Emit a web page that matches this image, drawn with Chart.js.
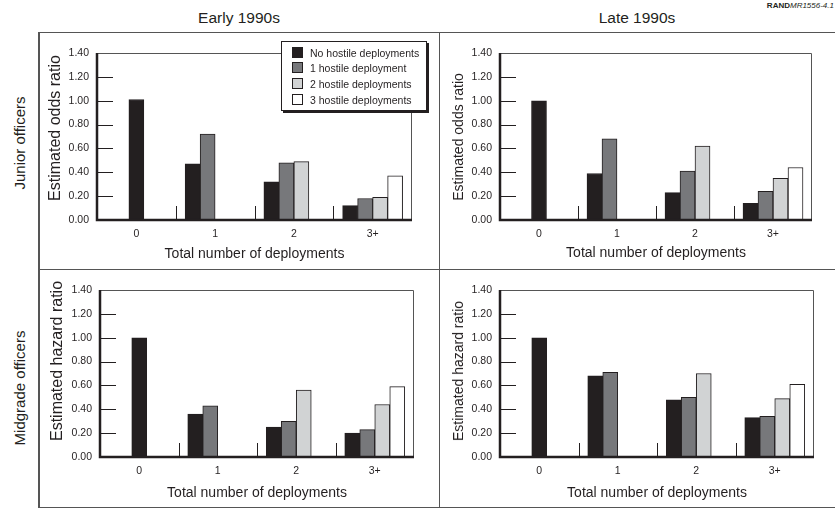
<!DOCTYPE html>
<html><head><meta charset="utf-8">
<script src="https://cdn.jsdelivr.net/npm/chart.js@4.4.1/dist/chart.umd.min.js"></script>
<style>
html,body{margin:0;padding:0;background:#fff;}
#wrap{position:relative;width:835px;height:508px;overflow:hidden;font-family:"Liberation Sans",Arial,Helvetica,sans-serif;color:#231f20;}
canvas{position:absolute;left:0;top:0;}
.ln{position:absolute;background:#555;}
.t{position:absolute;white-space:nowrap;line-height:1;}
.ctr{transform:translate(-50%,-50%);}
.rot{transform:translate(-50%,-50%) rotate(-90deg);}
#legend{position:absolute;left:281px;top:41px;width:144px;height:68px;background:#fff;border:1px solid #231f20;box-shadow:2px 2px 0 #231f20;z-index:5;}
.li{position:absolute;left:10px;height:12px;font-size:10.5px;line-height:12px;white-space:nowrap;}
.sw{display:inline-block;width:9px;height:9px;border:1px solid #231f20;vertical-align:top;margin-top:0px;margin-right:7px;}
</style></head>
<body><div id="wrap"></div>
<script>
// ---------------- data ----------------
const categories = ['0', '1', '2', '3+'];
const seriesNames = ['No hostile deployments', '1 hostile deployment', '2 hostile deployments', '3 hostile deployments'];
const yTickValues = [0, 0.2, 0.4, 0.6, 0.8, 1.0, 1.2, 1.4];

// Early 1990s, junior officers (estimated odds ratio)
const earlyJuniorNone  = [1.01, 0.47, 0.32, 0.12];
const earlyJuniorOne   = [null, 0.72, 0.48, 0.18];
const earlyJuniorTwo   = [null, null, 0.49, 0.19];
const earlyJuniorThree = [null, null, null, 0.37];
// Late 1990s, junior officers (estimated odds ratio)
const lateJuniorNone  = [1.00, 0.39, 0.23, 0.14];
const lateJuniorOne   = [null, 0.68, 0.41, 0.24];
const lateJuniorTwo   = [null, null, 0.62, 0.35];
const lateJuniorThree = [null, null, null, 0.44];
// Early 1990s, midgrade officers (estimated hazard ratio)
const earlyMidNone  = [1.00, 0.36, 0.25, 0.20];
const earlyMidOne   = [null, 0.43, 0.30, 0.23];
const earlyMidTwo   = [null, null, 0.56, 0.44];
const earlyMidThree = [null, null, null, 0.59];
// Late 1990s, midgrade officers (estimated hazard ratio)
const lateMidNone  = [1.00, 0.68, 0.48, 0.33];
const lateMidOne   = [null, 0.71, 0.50, 0.34];
const lateMidTwo   = [null, null, 0.70, 0.49];
const lateMidThree = [null, null, null, 0.61];

// ---------------- styles ----------------
const FONT = '"Liberation Sans", Arial, Helvetica, sans-serif';
const INK = '#231f20';
const fills = ['#231f20', '#77787b', '#d1d3d4', '#ffffff'];

const wrap = document.getElementById('wrap');
function addDiv(cls, css, html) {
  const d = document.createElement('div');
  d.className = cls; d.style.cssText = css; d.innerHTML = html; wrap.appendChild(d); return d;
}

// frame lines
addDiv('ln', 'left:38px;top:32px;width:1.5px;height:476px;', '');
addDiv('ln', 'left:38px;top:31.5px;width:797px;height:1.5px;', '');
addDiv('ln', 'left:38px;top:268.5px;width:797px;height:1.5px;', '');
addDiv('ln', 'left:438.5px;top:32px;width:1.5px;height:476px;', '');
addDiv('ln', 'left:38px;top:506.5px;width:797px;height:1.5px;', '');

// headers
addDiv('t ctr', 'left:239px;top:18px;font-size:15.5px;', 'Early 1990s');
addDiv('t ctr', 'left:637px;top:18px;font-size:15.5px;', 'Late 1990s');
addDiv('t', 'right:1px;top:2px;font-size:8px;', '<b>RAND</b><i>MR1556-4.1</i>');
addDiv('t rot', 'left:19px;top:143px;font-size:15px;', 'Junior officers');
addDiv('t rot', 'left:19px;top:388px;font-size:15px;', 'Midgrade officers');

const panels = [
  { series: [earlyJuniorNone, earlyJuniorOne, earlyJuniorTwo, earlyJuniorThree],
    yTitle: 'Estimated odds ratio', yTitleX: 55, yTitleY: 128, yTitleSize: 16,
    area: { left: 97, right: 412, top: 53, bottom: 220 }, frameLeft: 40, frameBottom: 268, xTitleY: 254 },
  { series: [lateJuniorNone, lateJuniorOne, lateJuniorTwo, lateJuniorThree],
    yTitle: 'Estimated odds ratio', yTitleX: 458, yTitleY: 137, yTitleSize: 14,
    area: { left: 500, right: 812, top: 53, bottom: 220 }, frameLeft: 441, frameBottom: 268, xTitleY: 253 },
  { series: [earlyMidNone, earlyMidOne, earlyMidTwo, earlyMidThree],
    yTitle: 'Estimated hazard ratio', yTitleX: 57, yTitleY: 361, yTitleSize: 16,
    area: { left: 100, right: 414, top: 290, bottom: 457 }, frameLeft: 40, frameBottom: 506, xTitleY: 493 },
  { series: [lateMidNone, lateMidOne, lateMidTwo, lateMidThree],
    yTitle: 'Estimated hazard ratio', yTitleX: 458, yTitleY: 371, yTitleSize: 14,
    area: { left: 500, right: 814, top: 290, bottom: 457 }, frameLeft: 441, frameBottom: 506, xTitleY: 493 }
];

const framePlugin = {
  id: 'frame',
  afterDatasetsDraw(chart) {
    const { ctx, chartArea: a, scales: { x, y } } = chart;
    ctx.save();
    ctx.strokeStyle = '#555';
    ctx.lineWidth = 1;
    ctx.beginPath();
    ctx.moveTo(a.left, a.top + 0.5);
    ctx.lineTo(a.right - 0.5, a.top + 0.5);
    ctx.lineTo(a.right - 0.5, a.bottom);
    ctx.stroke();
    ctx.strokeStyle = INK;
    ctx.beginPath();
    y.ticks.forEach(t => {
      if (t.value <= y.min || t.value >= y.max - 1e-9) return;
      const py = Math.round(y.getPixelForValue(t.value)) + 0.5;
      ctx.moveTo(a.left, py); ctx.lineTo(a.left + 16, py);
    });
    for (let i = 1; i < categories.length; i++) {
      const px = Math.round((x.getPixelForValue(i - 1) + x.getPixelForValue(i)) / 2) + 0.5;
      ctx.moveTo(px, a.bottom); ctx.lineTo(px, a.bottom - 14);
    }
    ctx.stroke();
    ctx.lineWidth = 2.5;
    ctx.beginPath();
    ctx.moveTo(a.left, a.top);
    ctx.lineTo(a.left, a.bottom);
    ctx.lineTo(a.right, a.bottom);
    ctx.stroke();
    ctx.restore();
  }
};

panels.forEach(p => {
  const cv = document.createElement('canvas');
  cv.width = 835; cv.height = 508;
  wrap.appendChild(cv);
  addDiv('t rot', `left:${p.yTitleX}px;top:${p.yTitleY}px;font-size:${p.yTitleSize}px;`, p.yTitle);
  const titleSize = 14;
  const titlePad = p.frameBottom - titleSize * 0.6 - p.xTitleY;
  new Chart(cv, {
    type: 'bar',
    data: {
      labels: categories,
      datasets: p.series.map((arr, k) => ({
        label: seriesNames[k],
        // first category holds a single centred bar; elsewhere missing bars keep their slot
        data: arr.map((v, i) => (v === null && i > 0 ? 0 : v)),
        backgroundColor: fills[k],
        borderColor: INK,
        borderWidth: 1,
        borderSkipped: 'start',
        barThickness: 15,
        skipNull: true
      }))
    },
    options: {
      responsive: false, animation: false, devicePixelRatio: 1,
      layout: { padding: { left: p.frameLeft, top: p.area.top, right: 835 - p.area.right, bottom: 508 - p.frameBottom } },
      plugins: { legend: { display: false }, tooltip: { enabled: false } },
      scales: {
        x: {
          grid: { display: false, drawTicks: false }, border: { display: false },
          ticks: { color: INK, font: { family: FONT, size: 10.5 }, padding: 8 },
          title: { display: true, text: 'Total number of deployments', color: INK,
                   font: { family: FONT, size: titleSize }, padding: { top: 0, bottom: titlePad } },
          afterFit(s) { s.height = p.frameBottom - p.area.bottom; }
        },
        y: {
          min: 0, max: 1.4,
          grid: { display: false, drawTicks: false }, border: { display: false },
          afterBuildTicks(s) { s.ticks = yTickValues.map(v => ({ value: v })); },
          ticks: { color: INK, font: { family: FONT, size: 10.5 }, padding: 8, callback: v => Number(v).toFixed(2) },
          afterFit(s) { s.width = p.area.left - p.frameLeft; }
        }
      }
    },
    plugins: [framePlugin]
  });
});

// legend
const lg = addDiv('', '', '');
lg.id = 'legend';
const rowTops = [5, 20, 36, 52];
seriesNames.forEach((n, k) => {
  const it = document.createElement('div');
  it.className = 'li';
  it.style.top = rowTops[k] + 'px';
  it.innerHTML = `<span class="sw" style="background:${fills[k]}"></span>${n}`;
  lg.appendChild(it);
});
</script></body></html>
